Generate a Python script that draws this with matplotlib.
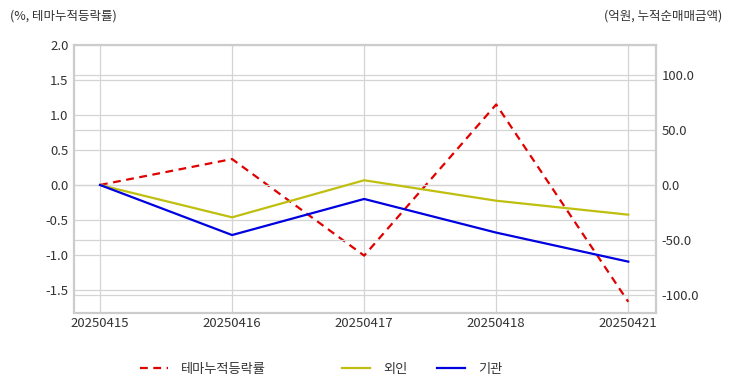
import matplotlib
matplotlib.use("Agg")
import matplotlib.pyplot as plt
from matplotlib.ticker import FormatStrFormatter

plt.rcParams['font.family'] = ['Noto Sans CJK KR', 'DejaVu Sans']

dates = ["20250415", "20250416", "20250417", "20250418", "20250421"]
theme_rate = [0.0, 0.37, -1.01, 1.15, -1.67]      # %, left axis
foreign = [0.0, -29.4, 4.3, -14.3, -27.0]          # 억원, right axis
institution = [0.0, -45.5, -12.7, -43.3, -69.7]    # 억원, right axis

grid_c = "#d4d4d4"
text_c = "#333333"

fig = plt.figure(figsize=(7.32, 3.92), dpi=100)
ax = fig.add_axes([74 / 732, 1 - 313 / 392, (656 - 74) / 732, (313 - 45) / 392])
ax2 = ax.twinx()

x = list(range(len(dates)))
l1, = ax.plot(x, theme_rate, color="#e00000", ls=(0, (3.5, 2.5)), lw=1.6, label="테마누적등락률")
l2, = ax2.plot(x, foreign, color="#bfbf10", lw=1.6, label="외인")
l3, = ax2.plot(x, institution, color="#0000e0", lw=1.6, label="기관")

ax.set_xlim(-0.197, 4.21)
ax.set_ylim(-1.83, 2.0)
ax2.set_ylim(-116.4, 127.3)
ax.set_xticks(x)
ax.set_xticklabels(dates)
ax.set_yticks([-1.5, -1.0, -0.5, 0.0, 0.5, 1.0, 1.5, 2.0])
ax2.set_yticks([-100, -50, 0, 50, 100])
ax.yaxis.set_major_formatter(FormatStrFormatter("%.1f"))
ax2.yaxis.set_major_formatter(FormatStrFormatter("%.1f"))

for a in (ax, ax2):
    a.grid(True, color=grid_c, lw=0.9)
    a.set_axisbelow(True)
    a.tick_params(length=0, labelsize=9.5, colors=text_c, pad=4)
    for s in a.spines.values():
        s.set_color("#cccccc")
        s.set_linewidth(1.5)
ax2.grid(True, axis="y", color=grid_c, lw=0.9)
ax2.xaxis.grid(False)
ax.tick_params(axis="x", pad=3)

fig.text(10 / 732, 1 - 16 / 392, "(%, 테마누적등락률)", fontsize=9, color=text_c, va="center", ha="left")
fig.text(722 / 732, 1 - 16 / 392, "(억원, 누적순매매금액)", fontsize=9, color=text_c, va="center", ha="right")

# legend entries sit in fixed-width slots at the bottom
for handle, left in zip([l1, l2, l3], [140, 342, 437]):
    fig.legend(handles=[handle], loc="center left", bbox_to_anchor=(left / 732, 1 - 369 / 392),
               frameon=False, fontsize=9.5, handlelength=2.1, handletextpad=1.0,
               borderpad=0, borderaxespad=0, labelcolor=text_c)

fig.savefig("out.png", dpi=100)
